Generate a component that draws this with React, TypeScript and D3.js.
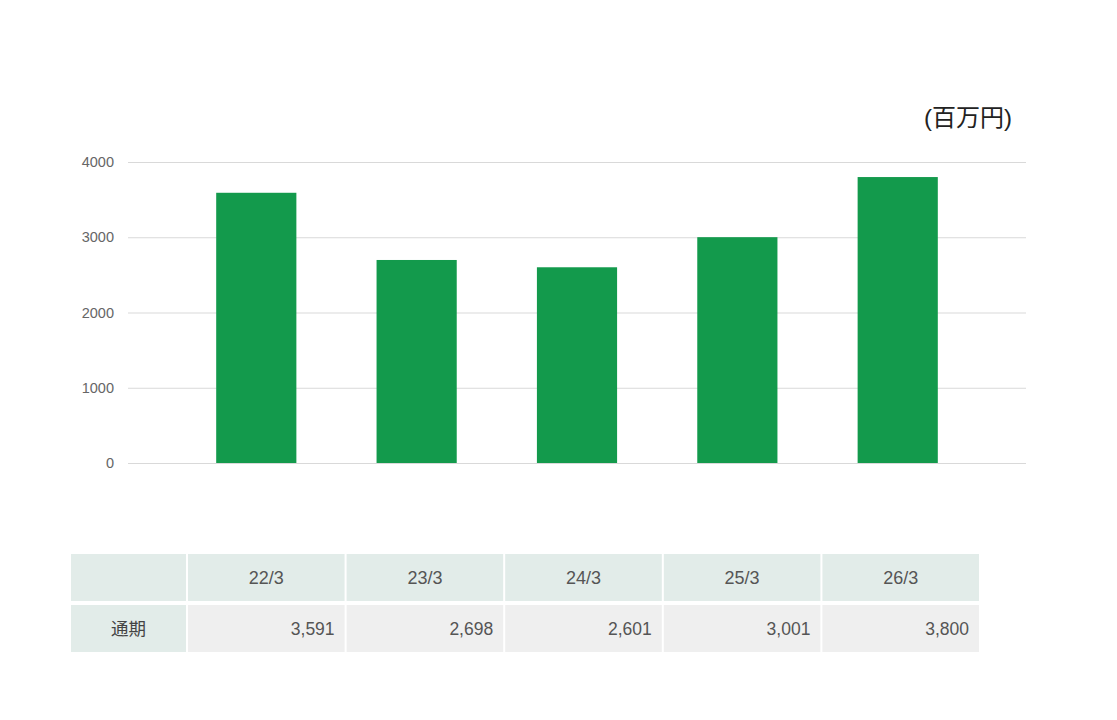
import { useEffect, useRef } from "react";
import * as d3 from "d3";

const categories = ["22/3", "23/3", "24/3", "25/3", "26/3"];
const values = [3591, 2698, 2601, 3001, 3800];
const yTicks = [0, 1000, 2000, 3000, 4000];
const rowLabel = "通期";
const unitLabel = "(百万円)";

const FONT = "'Liberation Sans', Arial, 'Noto Sans CJK JP', sans-serif";

export default function App() {
  const svgRef = useRef<SVGSVGElement>(null);

  useEffect(() => {
    if (!svgRef.current) return;
    const svg = d3.select(svgRef.current);
    svg.selectAll("*").remove();

    const x = d3.scaleBand<string>().domain(categories).range([128, 1026]).paddingInner(0.5).paddingOuter(0.55);
    const y = d3.scaleLinear().domain([0, 4000]).range([463, 162]);

    // gridlines
    svg
      .append("g")
      .selectAll("line")
      .data(yTicks)
      .enter()
      .append("line")
      .attr("x1", 128)
      .attr("x2", 1026)
      .attr("y1", (d) => y(d) + 0.5)
      .attr("y2", (d) => y(d) + 0.5)
      .attr("stroke", "#d9d9d9")
      .attr("stroke-width", 1);

    // tick labels
    svg
      .append("g")
      .selectAll("text")
      .data(yTicks)
      .enter()
      .append("text")
      .attr("x", 114)
      .attr("y", (d) => y(d))
      .attr("dy", "0.35em")
      .attr("text-anchor", "end")
      .attr("fill", "#666")
      .attr("font-size", "14.5px")
      .attr("font-family", FONT)
      .text((d) => String(d));

    // bars
    svg
      .append("g")
      .selectAll("rect")
      .data(values)
      .enter()
      .append("rect")
      .attr("x", (_, i) => x(categories[i])!)
      .attr("width", x.bandwidth())
      .attr("y", (d) => y(d))
      .attr("height", (d) => y(0) - y(d))
      .attr("fill", "#139a4c");

    // unit label
    svg
      .append("text")
      .attr("x", 1012)
      .attr("y", 126)
      .attr("text-anchor", "end")
      .attr("fill", "#222")
      .attr("font-size", "24px")
      .attr("font-family", FONT)
      .text(unitLabel);

    // table
    const col = d3.scaleBand<string>().domain(categories).range([188, 979]).paddingInner(2 / 158);
    const headTop = 554;
    const rowH = 47;
    const bodyTop = 605;
    const t = svg.append("g").attr("font-family", FONT).attr("fill", "#555");

    t.append("rect").attr("x", 71).attr("y", headTop).attr("width", 115).attr("height", rowH).attr("fill", "#e2ece9");
    t.append("rect").attr("x", 71).attr("y", bodyTop).attr("width", 115).attr("height", rowH).attr("fill", "#e2ece9");
    t.append("text")
      .attr("x", 71 + 115 / 2)
      .attr("y", bodyTop + rowH / 2)
      .attr("dy", "0.35em")
      .attr("text-anchor", "middle")
      .attr("font-size", "17.5px")
      .attr("fill", "#444")
      .text(rowLabel);

    const cells = t.selectAll("g.cell").data(categories).enter().append("g").attr("class", "cell");
    cells
      .append("rect")
      .attr("x", (d) => col(d)!)
      .attr("y", headTop)
      .attr("width", col.bandwidth())
      .attr("height", rowH)
      .attr("fill", "#e2ece9");
    cells
      .append("rect")
      .attr("x", (d) => col(d)!)
      .attr("y", bodyTop)
      .attr("width", col.bandwidth())
      .attr("height", rowH)
      .attr("fill", "#efefef");
    cells
      .append("text")
      .attr("x", (d) => col(d)! + col.bandwidth() / 2)
      .attr("y", headTop + rowH / 2)
      .attr("dy", "0.35em")
      .attr("text-anchor", "middle")
      .attr("font-size", "18px")
      .text((d) => d);
    cells
      .append("text")
      .attr("x", (d) => col(d)! + col.bandwidth() - 10)
      .attr("y", bodyTop + rowH / 2)
      .attr("dy", "0.35em")
      .attr("text-anchor", "end")
      .attr("font-size", "17.5px")
      .text((_, i) => d3.format(",")(values[i]));
  }, []);

  return (
    <svg
      ref={svgRef}
      width={1117}
      height={720}
      style={{ position: "absolute", left: 0, top: 0, background: "#fff" }}
    />
  );
}
